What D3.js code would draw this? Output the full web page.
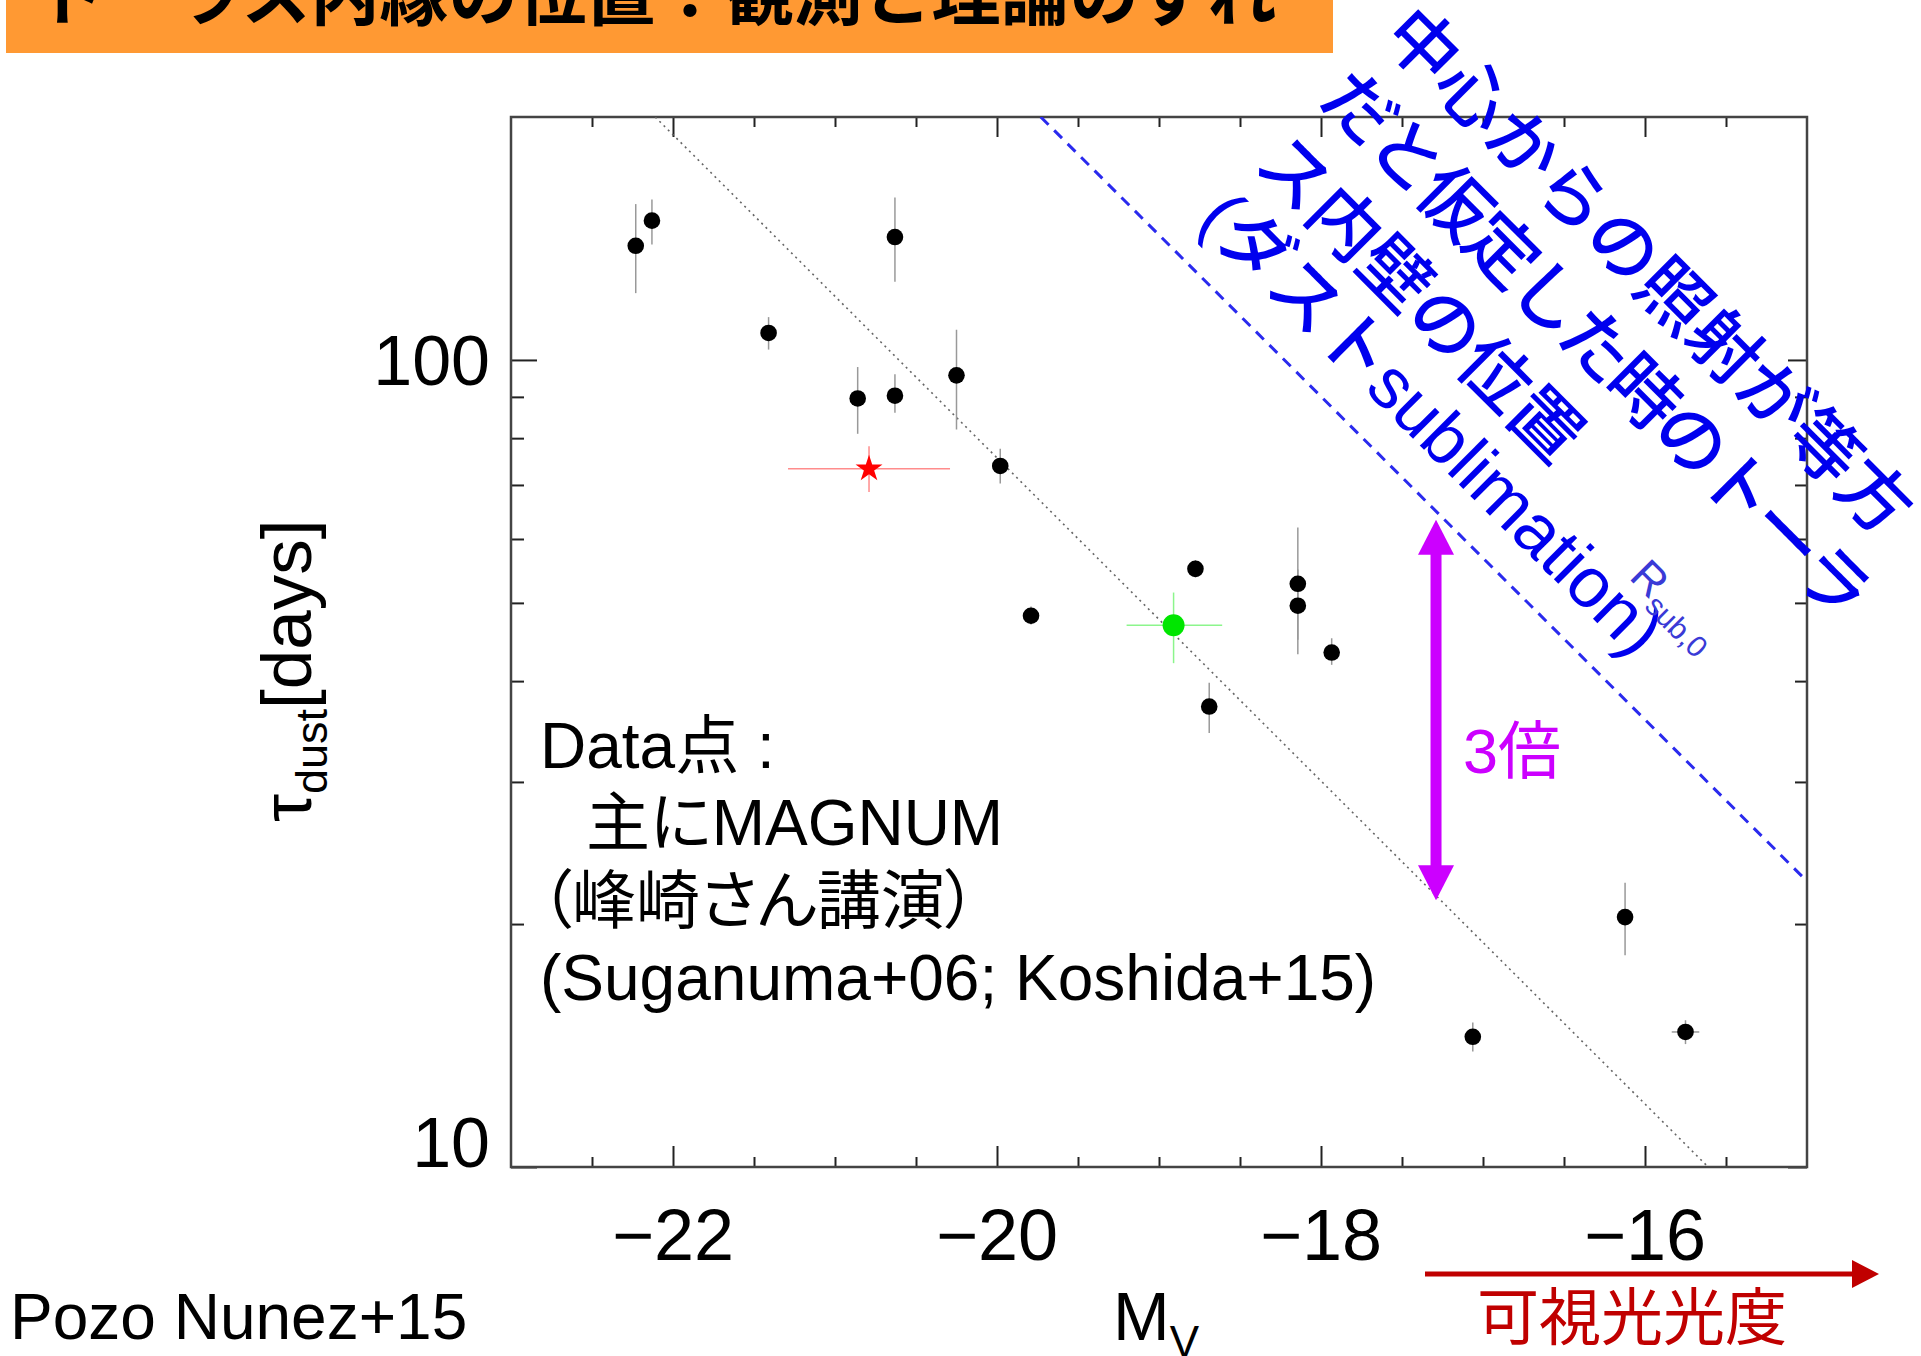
<!DOCTYPE html>
<html>
<head>
<meta charset="utf-8">
<script src="https://cdn.jsdelivr.net/npm/d3@7"></script>
<style>
    body { margin: 0; background: #fff; }
    svg { display: block; }
    text { font-family: "Liberation Sans", Arial, "Noto Sans CJK JP", sans-serif; }
</style>
</head>
<body>
<div id="chart"></div>
<script>
// axis ranges and ticks
var mag_domain = [-23, -15];
var lag_domain = [10, 200];
var x_major_ticks = [-22, -20, -18, -16];
var x_tick_labels = ["\u221222", "\u221220", "\u221218", "\u221216"];
var x_minor_ticks = [-22.5, -21.5, -21, -20.5, -19.5, -19, -18.5, -17.5, -17, -16.5, -15.5];
var y_major_ticks = [10, 100];
var y_tick_labels = ["10", "100"];
var y_minor_ticks = [20, 30, 40, 50, 60, 70, 80, 90];

// MAGNUM (black) points: M_V, lag [days], lag error range, M_V error
var agn_mag = [-22.23, -22.13, -20.63, -21.41, -20.86, -20.63, -20.25, -19.98, -19.79, -18.775, -18.143, -18.143, -17.934, -18.69, -16.123, -17.063, -15.75];
var agn_lag = [138.5, 148.8, 142, 108, 89.6, 90.3, 95.7, 73.9, 48.2, 55.1, 52.8, 49.6, 43.4, 37.2, 20.4, 14.5, 14.7];
var agn_lag_lo = [121, 139, 125, 103, 81, 86, 82, 70.3, 47, 53.8, 45, 43.2, 41.9, 34.5, 18.3, 13.9, 14.2];
var agn_lag_hi = [156, 158, 159, 113, 98, 96, 109, 77.6, 49.5, 56.5, 62, 55, 45.2, 39.8, 22.5, 15.1, 15.2];
var agn_mag_err = [0, 0, 0, 0, 0, 0, 0, 0, 0, 0, 0.05, 0.05, 0, 0.035, 0, 0, 0.085];

// red star and green point
var star_mag = -20.79, star_lag = 73.3;
var star_lag_range = [68.6, 78.2], star_mag_range = [-21.29, -20.29];
var green_mag = -18.91, green_lag = 46.9;
var green_lag_range = [42.1, 51.5], green_mag_range = [-19.2, -18.61];

// model lines (end points) and the 3x arrow
var dotted_line_mag = [-22.11, -15.61], dotted_line_lag = [200, 10];
var sublimation_line_mag = [-19.73, -15.0], sublimation_line_lag = [200, 22.6];
var ratio_arrow_mag = -17.29, ratio_arrow_lag = [21.4, 63.4];

// texts
var title_text = "トーラス内縁の位置：観測と理論のずれ";
var blue_note_lines = ["中心からの照射が等方", "だと仮定した時のトーラ", "ス内壁の位置", "(ダストsublimation)"];
var data_note_lines = ["Data点 :", "主にMAGNUM", "（峰崎さん講演）", "(Suganuma+06; Koshida+15)"];

function draw_chart() {
    var width = 1921;
    var height = 1356;
    var plot_left = 511, plot_right = 1807, plot_top = 117, plot_bottom = 1167;

    var svg = d3.select("#chart").append("svg")
        .attr("width", width)
        .attr("height", height);

    var x = d3.scaleLinear().domain(mag_domain).range([plot_left, plot_right]);
    var y = d3.scaleLog().domain(lag_domain).range([plot_bottom, plot_top]);

    // title bar
    svg.append("rect")
        .attr("x", 6).attr("y", 0)
        .attr("width", 1327).attr("height", 53)
        .attr("fill", "#ff9933");
    svg.append("text")
        .attr("x", 36).attr("y", 20)
        .style("font-family", "'Noto Sans CJK JP', sans-serif")
        .style("font-weight", 700)
        .style("font-size", "69px")
        .attr("fill", "#000")
        .text(title_text);

    svg.append("defs").append("clipPath").attr("id", "plot-clip")
        .append("rect")
        .attr("x", plot_left).attr("y", plot_top)
        .attr("width", plot_right - plot_left).attr("height", plot_bottom - plot_top);

    // ticks, all pointing inward
    function draw_ticks(axis, values, size, transform) {
        var g = svg.append("g")
            .attr("transform", transform)
            .call(axis.tickValues(values).tickSize(size).tickSizeOuter(0).tickFormat(""));
        g.select(".domain").remove();
        g.selectAll(".tick line").attr("stroke", "#222").attr("stroke-width", 2);
    }
    draw_ticks(d3.axisBottom(x), x_minor_ticks, -10, "translate(0," + plot_bottom + ")");
    draw_ticks(d3.axisBottom(x), x_major_ticks, -21, "translate(0," + plot_bottom + ")");
    draw_ticks(d3.axisTop(x), x_minor_ticks, -10, "translate(0," + plot_top + ")");
    draw_ticks(d3.axisTop(x), x_major_ticks, -20, "translate(0," + plot_top + ")");
    draw_ticks(d3.axisLeft(y), y_minor_ticks, -13, "translate(" + plot_left + ",0)");
    draw_ticks(d3.axisLeft(y), y_major_ticks, -26, "translate(" + plot_left + ",0)");
    draw_ticks(d3.axisRight(y), y_minor_ticks, -12, "translate(" + plot_right + ",0)");
    draw_ticks(d3.axisRight(y), y_major_ticks, -19, "translate(" + plot_right + ",0)");

    svg.append("rect")
        .attr("x", plot_left).attr("y", plot_top)
        .attr("width", plot_right - plot_left).attr("height", plot_bottom - plot_top)
        .attr("fill", "none")
        .attr("stroke", "#444")
        .attr("stroke-width", 2.5);

    // tick labels
    svg.append("g").selectAll("text").data(x_major_ticks).enter()
        .append("text")
            .attr("x", function(d) { return x(d); })
            .attr("y", plot_bottom + 93)
            .attr("text-anchor", "middle")
            .style("font-size", "72px")
            .text(function(d, i) { return x_tick_labels[i]; });

    svg.append("g").selectAll("text").data(y_major_ticks).enter()
        .append("text")
            .attr("x", plot_left - 21)
            .attr("y", function(d) {
                // the lowest label sits on the axis instead of being centred
                if (d == lag_domain[0]) return y(d);
                return y(d) + 25;
            })
            .attr("text-anchor", "end")
            .style("font-size", "70px")
            .text(function(d, i) { return y_tick_labels[i]; });

    // axis titles
    var y_title = svg.append("text")
        .attr("transform", "translate(311,822) rotate(-90)")
        .style("font-size", "71px");
    y_title.append("tspan").text("τ");
    y_title.append("tspan").attr("dy", 16).style("font-size", "45px").text("dust");
    y_title.append("tspan").attr("dy", -16).text("[days]");

    var x_title = svg.append("text")
        .attr("x", 1113).attr("y", 1340)
        .style("font-size", "68px");
    x_title.append("tspan").text("M");
    x_title.append("tspan").attr("dy", 17).style("font-size", "44px").text("V");

    // model lines
    var lines = svg.append("g").attr("clip-path", "url(#plot-clip)");
    lines.append("line")
        .attr("x1", x(dotted_line_mag[0])).attr("y1", y(dotted_line_lag[0]))
        .attr("x2", x(dotted_line_mag[1])).attr("y2", y(dotted_line_lag[1]))
        .attr("stroke", "#666")
        .attr("stroke-width", 1.6)
        .attr("stroke-dasharray", "2,4");
    lines.append("line")
        .attr("x1", x(sublimation_line_mag[0])).attr("y1", y(sublimation_line_lag[0]))
        .attr("x2", x(sublimation_line_mag[1])).attr("y2", y(sublimation_line_lag[1]))
        .attr("stroke", "#2a2aee")
        .attr("stroke-width", 3)
        .attr("stroke-dasharray", "11,8");

    // error bars
    var errors = svg.append("g");
    errors.selectAll("line.v").data(agn_mag).enter()
        .append("line")
            .attr("class", "v")
            .attr("x1", function(d) { return x(d); })
            .attr("x2", function(d) { return x(d); })
            .attr("y1", function(d, i) { return y(agn_lag_lo[i]); })
            .attr("y2", function(d, i) { return y(agn_lag_hi[i]); })
            .attr("stroke", "#999")
            .attr("stroke-width", 1.5);
    errors.selectAll("line.h").data(agn_mag).enter()
        .append("line")
            .attr("class", "h")
            .attr("x1", function(d, i) { return x(d - agn_mag_err[i]); })
            .attr("x2", function(d, i) { return x(d + agn_mag_err[i]); })
            .attr("y1", function(d, i) { return y(agn_lag[i]); })
            .attr("y2", function(d, i) { return y(agn_lag[i]); })
            .attr("stroke", "#999")
            .attr("stroke-width", 1.5);

    function cross_bars(mag, lag, mag_range, lag_range, colour) {
        errors.append("line")
            .attr("x1", x(mag)).attr("x2", x(mag))
            .attr("y1", y(lag_range[0])).attr("y2", y(lag_range[1]))
            .attr("stroke", colour).attr("stroke-width", 1.5);
        errors.append("line")
            .attr("x1", x(mag_range[0])).attr("x2", x(mag_range[1]))
            .attr("y1", y(lag)).attr("y2", y(lag))
            .attr("stroke", colour).attr("stroke-width", 1.5);
    }
    cross_bars(star_mag, star_lag, star_mag_range, star_lag_range, "#ff8c8c");
    cross_bars(green_mag, green_lag, green_mag_range, green_lag_range, "#8cf58c");

    // points
    svg.append("g").selectAll("circle").data(agn_mag).enter()
        .append("circle")
            .attr("cx", function(d) { return x(d); })
            .attr("cy", function(d, i) { return y(agn_lag[i]); })
            .attr("r", 8.3)
            .attr("fill", "#000");
    svg.append("circle")
        .attr("cx", x(green_mag)).attr("cy", y(green_lag))
        .attr("r", 11)
        .attr("fill", "#00e600");
    svg.append("path")
        .attr("d", d3.symbol().type(d3.symbolStar).size(225)())
        .attr("transform", "translate(" + x(star_mag) + "," + y(star_lag) + ")")
        .attr("fill", "#ff0000");

    // 3x arrow
    var magenta = "#cc00ff";
    var ax = x(ratio_arrow_mag);
    var a_low = y(ratio_arrow_lag[0]), a_high = y(ratio_arrow_lag[1]);
    var head = 35, half = 18;
    svg.append("line")
        .attr("x1", ax).attr("x2", ax)
        .attr("y1", a_high + head - 2).attr("y2", a_low - head + 2)
        .attr("stroke", magenta).attr("stroke-width", 11);
    svg.append("path")
        .attr("d", "M" + ax + "," + a_high + "L" + (ax + half) + "," + (a_high + head) + "L" + (ax - half) + "," + (a_high + head) + "Z")
        .attr("fill", magenta);
    svg.append("path")
        .attr("d", "M" + ax + "," + a_low + "L" + (ax + half) + "," + (a_low - head) + "L" + (ax - half) + "," + (a_low - head) + "Z")
        .attr("fill", magenta);
    svg.append("text")
        .attr("x", ax + 27).attr("y", 773)
        .attr("fill", magenta)
        .style("font-size", "63px")
        .text("3倍");

    // blue note along the sublimation line
    var blue_offsets = [0, 89, 181, 260];
    var blue_spacing = [0, -4, 0, 0];
    svg.append("g")
        .attr("transform", "translate(1380,38) rotate(45)")
        .selectAll("text").data(blue_note_lines).enter()
        .append("text")
            .attr("x", 0)
            .attr("y", function(d, i) { return blue_offsets[i]; })
            .attr("fill", "#0000ee")
            .style("font-size", "71px")
            .style("font-weight", 500)
            .style("letter-spacing", function(d, i) { return blue_spacing[i] + "px"; })
            .text(function(d) { return d; });

    var r_label = svg.append("text")
        .attr("transform", "translate(1628,578) rotate(45)")
        .attr("fill", "#3a3ad6")
        .style("font-size", "44px");
    r_label.append("tspan").text("R");
    r_label.append("tspan").attr("dy", 10).style("font-size", "30px").text("sub,0");

    // data note
    svg.append("g").selectAll("text").data(data_note_lines).enter()
        .append("text")
            .attr("x", function(d, i) { return i == 1 ? 586 : 540; })
            .attr("y", function(d, i) { return 768 + i * 77.3; })
            .style("font-size", "64px")
            .style("font-feature-settings", "'palt'")
            .attr("fill", "#000")
            .text(function(d) { return d; });

    // brightness arrow below the axis
    var red = "#c00000";
    svg.append("line")
        .attr("x1", 1425).attr("x2", 1854)
        .attr("y1", 1274).attr("y2", 1274)
        .attr("stroke", red).attr("stroke-width", 5);
    svg.append("path")
        .attr("d", "M1852,1260L1879,1274L1852,1288Z")
        .attr("fill", red);
    svg.append("text")
        .attr("x", 1477).attr("y", 1340)
        .attr("fill", red)
        .style("font-size", "62px")
        .text("可視光光度");

    svg.append("text")
        .attr("x", 10).attr("y", 1339)
        .style("font-size", "64px")
        .attr("fill", "#000")
        .text("Pozo Nunez+15");
}

draw_chart();
</script>
</body>
</html>
